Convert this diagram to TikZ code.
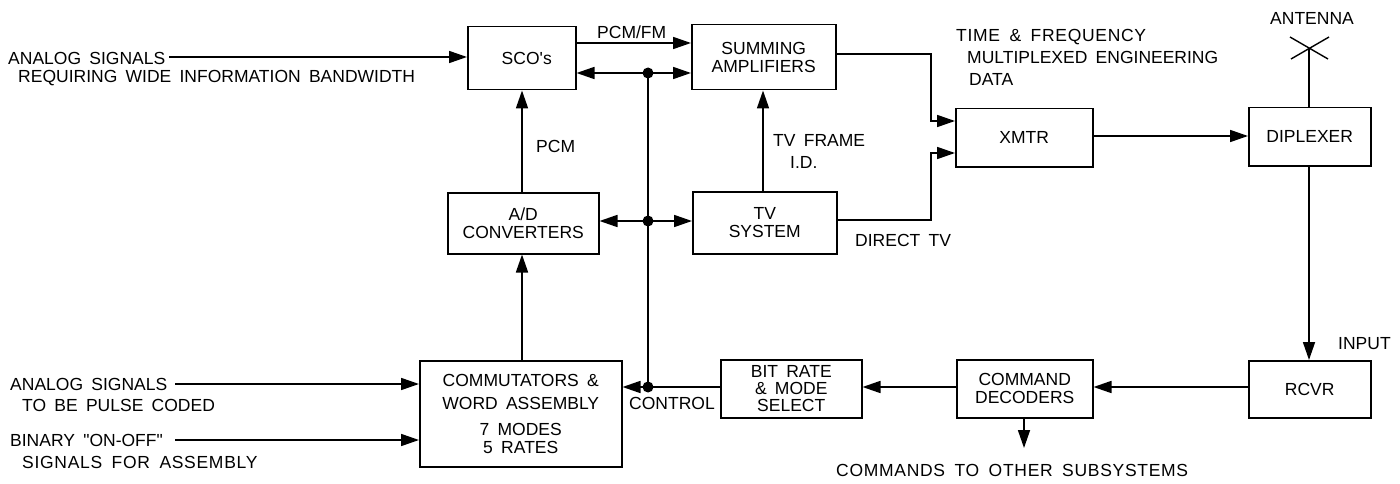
\documentclass[tikz,border=0pt]{standalone}
\usepackage{fontspec}
\newfontfamily\lfont{Liberation Sans}[WordSpace=1.7]
\newfontfamily\wfont{Liberation Sans}[WordSpace=1.7,LetterSpace=4]
\usetikzlibrary{arrows.meta}
\tikzset{
  x=1pt,y=-1pt,
  block/.style={draw,line width=1.5pt,inner sep=0pt,align=center,font=\lfont\fontsize{17.5}{18}\selectfont,anchor=north west},
  lab/.style={inner sep=0pt,align=left,font=\lfont\fontsize{17.5}{18}\selectfont,anchor=west},
  widelab/.style={lab,font=\wfont\fontsize{17.5}{18}\selectfont},
  wire/.style={line width=1.7pt,-{Triangle[length=18pt,width=12pt]}},
  plain/.style={line width=1.7pt},
  dot/.style={circle,fill,inner sep=0pt,minimum size=11pt},
}
\newcommand{\blk}[6]{\node[block,minimum width=#4pt-#2pt,minimum height=#5pt-#3pt] (#1) at (#2,#3) {#6};}
\begin{document}
\begin{tikzpicture}
\useasboundingbox (0,0) rectangle (1400,484);
\blk{sco}{467}{26}{575}{89}{\hspace{10pt}SCO's}
\blk{sum}{691}{24}{835}{89}{SUMMING\\AMPLIFIERS}
\blk{ad}{447}{192}{598}{253}{A/D\\CONVERTERS}
\blk{tv}{692}{191}{836}{253}{TV\\SYSTEM}
\blk{xmtr}{955}{108}{1092}{166}{XMTR}
\blk{dip}{1248}{107}{1370}{165}{DIPLEXER}
\blk{com}{419}{360}{621}{466}{COMMUTATORS \&\\[5pt]WORD ASSEMBLY\\[8pt]7 MODES\\5 RATES}
\blk{bit}{720}{359}{861}{417}{BIT RATE\\[-1pt]\& MODE\\[-1pt]SELECT}
\blk{dec}{956}{359}{1092}{417}{COMMAND\\DECODERS}
\blk{rcv}{1248}{360}{1370}{417}{RCVR}
\coordinate (in1) at (169,57);
\coordinate (in2) at (175,384);
\coordinate (in3) at (175,440);
\coordinate (out) at (1024,448);
\coordinate (ant) at (1309,48);
\coordinate (j1) at (648,73);
\coordinate (j2) at (648,221);
\coordinate (j3) at (648,387);
\node[dot] (d1) at (j1) {};
\node[dot] (d2) at (j2) {};
\node[dot] (d3) at (j3) {};
\draw[wire] (in1) -- (sco.west|-in1);
\draw[wire] (in2) -- (com.west|-in2);
\draw[wire] (in3) -- (com.west|-in3);
\draw[wire] (sco.east|-0,43) -- (sum.west|-0,43);
\draw[wire] (j1) -- (sco.east|-j1);
\draw[wire] (j1) -- (sum.west|-j1);
\draw[wire] (j2) -- (ad.east|-j2);
\draw[wire] (j2) -- (tv.west|-j2);
\draw[plain] (j1) -- (j2) -- (j3);
\draw[plain] (bit.west|-j3) -- (j3);
\draw[wire] (j3) -- (com.east|-j3);
\draw[wire] (ad.north-|522,0) -- (sco.south-|522,0);
\draw[wire] (com.north-|522,0) -- (ad.south-|522,0);
\draw[wire] (tv.north-|763,0) -- (sum.south-|763,0);
\draw[wire] (sum.east|-0,54) -| (931,121) -- (xmtr.west|-0,121);
\draw[wire] (tv.east|-0,220) -| (931,153) -- (xmtr.west|-0,153);
\draw[wire] (xmtr.east|-0,136) -- (dip.west|-0,136);
\draw[wire] (dip.south-|1309,0) -- (rcv.north-|1309,0);
\draw[wire] (rcv.west|-j3) -- (dec.east|-j3);
\draw[wire] (dec.west|-j3) -- (bit.east|-j3);
\draw[wire] (dec.south-|1024,0) -- (out);
\draw[plain] (dip.north-|1309,0) -- (ant);
\draw[line width=1.4pt] (1290,37) -- (1328,59) (1291,59) -- (1329,37);
\node[lab] (t1) at (8,58) {ANALOG SIGNALS};
\node[lab] (t2) at (18,78) {REQUIRING WIDE INFORMATION BANDWIDTH};
\node[lab] (t3) at (10,384) {ANALOG SIGNALS};
\node[lab] (t4) at (22,405) {TO BE PULSE CODED};
\node[lab] (t5) at (10,440) {BINARY "ON-OFF"};
\node[widelab] (t6) at (22,462) {SIGNALS FOR ASSEMBLY};
\node[lab] (t7) at (597,32) {PCM/FM};
\node[lab] (t8) at (536,146) {PCM};
\node[lab] (t9) at (773,140) {TV FRAME};
\node[lab] (t10) at (790,162) {I.D.};
\node[lab] (t11) at (855,240) {DIRECT TV};
\node[widelab] (t12) at (956,37) {TIME \& FREQUENCY};
\node[lab] (t13) at (967,57) {MULTIPLEXED ENGINEERING};
\node[lab] (t14) at (969,79) {DATA};
\node[lab] (t15) at (1270,18) {ANTENNA};
\node[lab] (t16) at (1338,344) {INPUT};
\node[lab] (t17) at (629,403) {CONTROL};
\node[widelab] (t18) at (836,470) {COMMANDS TO OTHER SUBSYSTEMS};
\end{tikzpicture}
\end{document}
